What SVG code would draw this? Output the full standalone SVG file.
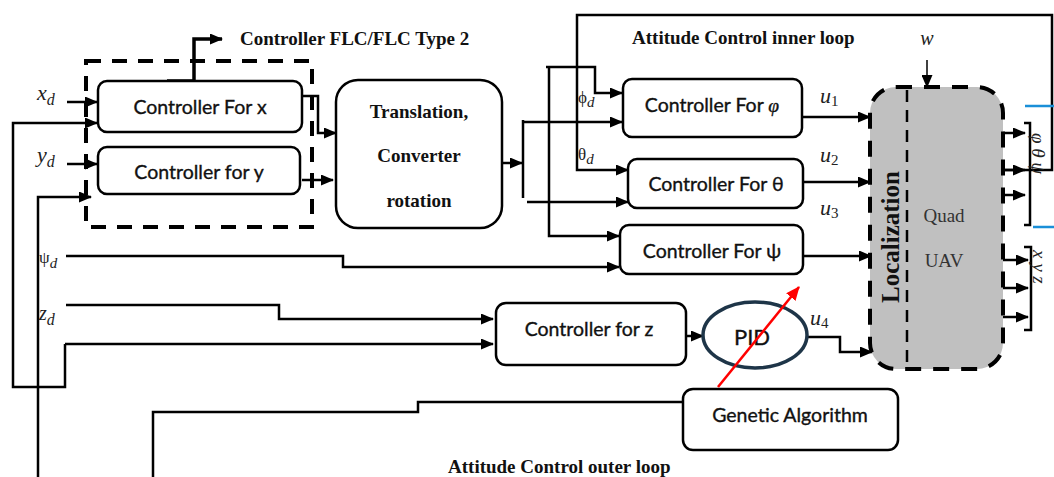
<svg xmlns="http://www.w3.org/2000/svg" width="1054" height="477" viewBox="0 0 1054 477">
<defs>
<marker id="ah" markerWidth="13" markerHeight="11" refX="12" refY="5.5" orient="auto" markerUnits="userSpaceOnUse"><path d="M0,0 L13,5.5 L0,11 z" fill="#000"/></marker>
<marker id="ahr" markerWidth="14" markerHeight="12" refX="13" refY="6" orient="auto" markerUnits="userSpaceOnUse"><path d="M0,0 L14,6 L0,12 z" fill="#f00"/></marker>
<style>
.box{fill:#fff;stroke:#000;stroke-width:2.5}
.ln{fill:none;stroke:#000;stroke-width:2.5}
.ar{marker-end:url(#ah)}
.bt{font-family:Lato,"Liberation Sans",sans-serif;font-size:19.5px;fill:#111;stroke:#111;stroke-width:0.35;text-anchor:middle}
.st{font-family:"Liberation Serif",serif;font-weight:bold;font-size:19px;fill:#111}
.mi{font-family:"Liberation Serif","DejaVu Serif",serif;font-style:italic;font-size:22px;fill:#222}
.ms{font-family:"Liberation Serif","DejaVu Serif",serif;font-size:17px;fill:#222}
</style>
</defs>
<rect width="1054" height="477" fill="#fff"/>

<g id="connectors">
  <path class="ln ar" d="M67,102 H97"/>
  <path class="ln ar" d="M65,344 H493"/>
  <path class="ln ar" d="M65,344 V387 H13 V123 H97"/>
  <path class="ln ar" d="M67,164 H97"/>
  <path class="ln ar" d="M38,477 V197 H91"/>
  <path class="ln" d="M167,81 H194" style="stroke-width:3.5"/>
  <path class="ln ar" d="M194,81 V39 H222" style="stroke-width:3.5"/>
  <path class="ln ar" d="M302,96 H318 V133 H336"/>
  <path class="ln ar" d="M302,180 H333"/>
  <path class="ln ar" d="M502,163 H522"/>
  <path class="ln" d="M523,120 V198"/>
  <path class="ln ar" d="M523,122 H622"/>
  <path class="ln ar" d="M527,202 H628"/>
  <path class="ln ar" d="M546,67 H595 V93 H622"/>
  <path class="ln ar" d="M549,67 V236 H619"/>
  <path class="ln ar" d="M998,170 H1052 V15 H577 V170 H628"/>
  <path class="ln ar" d="M66,256 H343 V267 H619"/>
  <path class="ln ar" d="M66,305 H279 V319 H493"/>
  <path class="ln ar" d="M686,336 H703"/>
  <path class="ln ar" d="M807,337 H840 V352 H872"/>
  <path class="ln ar" d="M802,117 H870"/>
  <path class="ln ar" d="M803,182 H870"/>
  <path class="ln ar" d="M803,256 H871"/>
  <path class="ln" d="M153,477 V412 H418 V402 H683"/>
  <path class="ln ar" d="M927,60 V87" style="stroke-width:1.5"/>
  <path class="ln ar" d="M999,133 H1025"/>
  <path class="ln ar" d="M999,170 H1025"/>
  <path class="ln ar" d="M999,195 H1025"/>
  <path class="ln ar" d="M1002,260 H1028"/>
  <path class="ln ar" d="M1002,288 H1028"/>
  <path class="ln ar" d="M1002,317 H1028"/>
  <path class="ln" d="M1024,123 H1030 V225 H1024"/>
  <path class="ln" d="M1024,247 H1031 V330 H1024"/>
  <path d="M1025,106 H1054 M1033,227 H1054" fill="none" stroke="#1a8fd8" stroke-width="2.5"/>
</g>

<g id="flc-group">
  <rect x="86" y="61" width="226" height="166" fill="none" stroke="#000" stroke-width="4" stroke-dasharray="15 11"/>
  <text class="st" x="240" y="45">Controller FLC/FLC Type 2</text>
</g>

<g id="ctrl-x">
  <rect class="box" x="98" y="81" width="204" height="51" rx="9"/>
  <text class="bt" x="200" y="114">Controller For x</text>
</g>
<g id="ctrl-y">
  <rect class="box" x="98" y="147" width="202" height="47" rx="9"/>
  <text class="bt" x="199" y="179">Controller for y</text>
</g>

<g id="translation">
  <rect class="box" x="336" y="80" width="166" height="148" rx="22"/>
  <text class="st" x="419" y="118" text-anchor="middle">Translation,</text>
  <text class="st" x="419" y="162" text-anchor="middle">Converter</text>
  <text class="st" x="419" y="207" text-anchor="middle">rotation</text>
</g>

<g id="ctrl-phi">
  <rect class="box" x="623" y="79" width="179" height="58" rx="9"/>
  <text class="bt" x="712" y="112">Controller For <tspan font-family="Liberation Serif, serif" font-style="italic">φ</tspan></text>
</g>
<g id="ctrl-theta">
  <rect class="box" x="628" y="159" width="175" height="49" rx="9"/>
  <text class="bt" x="716" y="191">Controller For θ</text>
</g>
<g id="ctrl-psi">
  <rect class="box" x="620" y="225" width="183" height="49" rx="9"/>
  <text class="bt" x="712" y="258">Controller For ψ</text>
</g>
<g id="ctrl-z">
  <rect class="box" x="496" y="303" width="190" height="62" rx="10"/>
  <text class="bt" x="589" y="336">Controller for z</text>
</g>
<g id="pid">
  <ellipse cx="755" cy="335" rx="52" ry="33" fill="#fff" stroke="#1e3548" stroke-width="3.5"/>
  <text class="bt" x="752" y="345" style="font-size:22px">PID</text>
</g>
<g id="genetic">
  <rect class="box" x="683" y="389" width="215" height="61" rx="10"/>
  <text class="bt" x="790" y="422">Genetic Algorithm</text>
</g>

<g id="quad-uav">
  <rect x="870" y="87" width="133" height="282" rx="26" fill="#c0c0c0" stroke="#000" stroke-width="4" stroke-dasharray="16 12"/>
  <path d="M907,90 V369" fill="none" stroke="#000" stroke-width="2.5" stroke-dasharray="12 8"/>
  <text x="0" y="0" transform="translate(899,237) rotate(-90)" text-anchor="middle" font-family="Liberation Serif, serif" font-weight="bold" font-size="25" fill="#111">Localization</text>
  <text x="944" y="222" text-anchor="middle" font-family="Liberation Serif, serif" font-size="19" fill="#333">Quad</text>
  <text x="944" y="267" text-anchor="middle" font-family="Liberation Serif, serif" font-size="19" fill="#333">UAV</text>
</g>

<g id="ga-link">
  <path d="M718,387 L799,287" fill="none" stroke="#f00" stroke-width="2.5" marker-end="url(#ahr)"/>
</g>

<g id="labels">
  <text class="st" x="632" y="44">Attitude Control inner loop</text>
  <text class="st" x="448" y="473">Attitude Control outer loop</text>
  <text class="mi" x="37" y="100">x<tspan font-size="16" dy="5">d</tspan></text>
  <text class="mi" x="37" y="162">y<tspan font-size="16" dy="5">d</tspan></text>
  <text class="ms" x="39" y="263">ψ<tspan font-size="15" font-style="italic" dy="5">d</tspan></text>
  <text class="mi" x="39" y="320" style="font-size:20px">z<tspan font-size="16" dy="5">d</tspan></text>
  <text class="ms" x="578" y="103">ϕ<tspan font-size="15" font-style="italic" dy="4">d</tspan></text>
  <text class="ms" x="578" y="160">θ<tspan font-size="15" font-style="italic" dy="4">d</tspan></text>
  <text class="mi" x="820" y="103">u<tspan font-style="normal" font-size="15" dy="3">1</tspan></text>
  <text class="mi" x="820" y="162">u<tspan font-style="normal" font-size="15" dy="3">2</tspan></text>
  <text class="mi" x="820" y="215">u<tspan font-style="normal" font-size="15" dy="3">3</tspan></text>
  <text class="mi" x="810" y="325">u<tspan font-style="normal" font-size="15" dy="3">4</tspan></text>
  <text class="mi" x="927" y="45" text-anchor="middle" style="font-size:20px">w</text>
  <text class="mi" transform="translate(1032,133) rotate(90)" style="font-size:19px">φ θ ψ</text>
  <text class="mi" transform="translate(1033,250) rotate(90)" style="font-size:19px">x  y  z</text>
</g>
</svg>
